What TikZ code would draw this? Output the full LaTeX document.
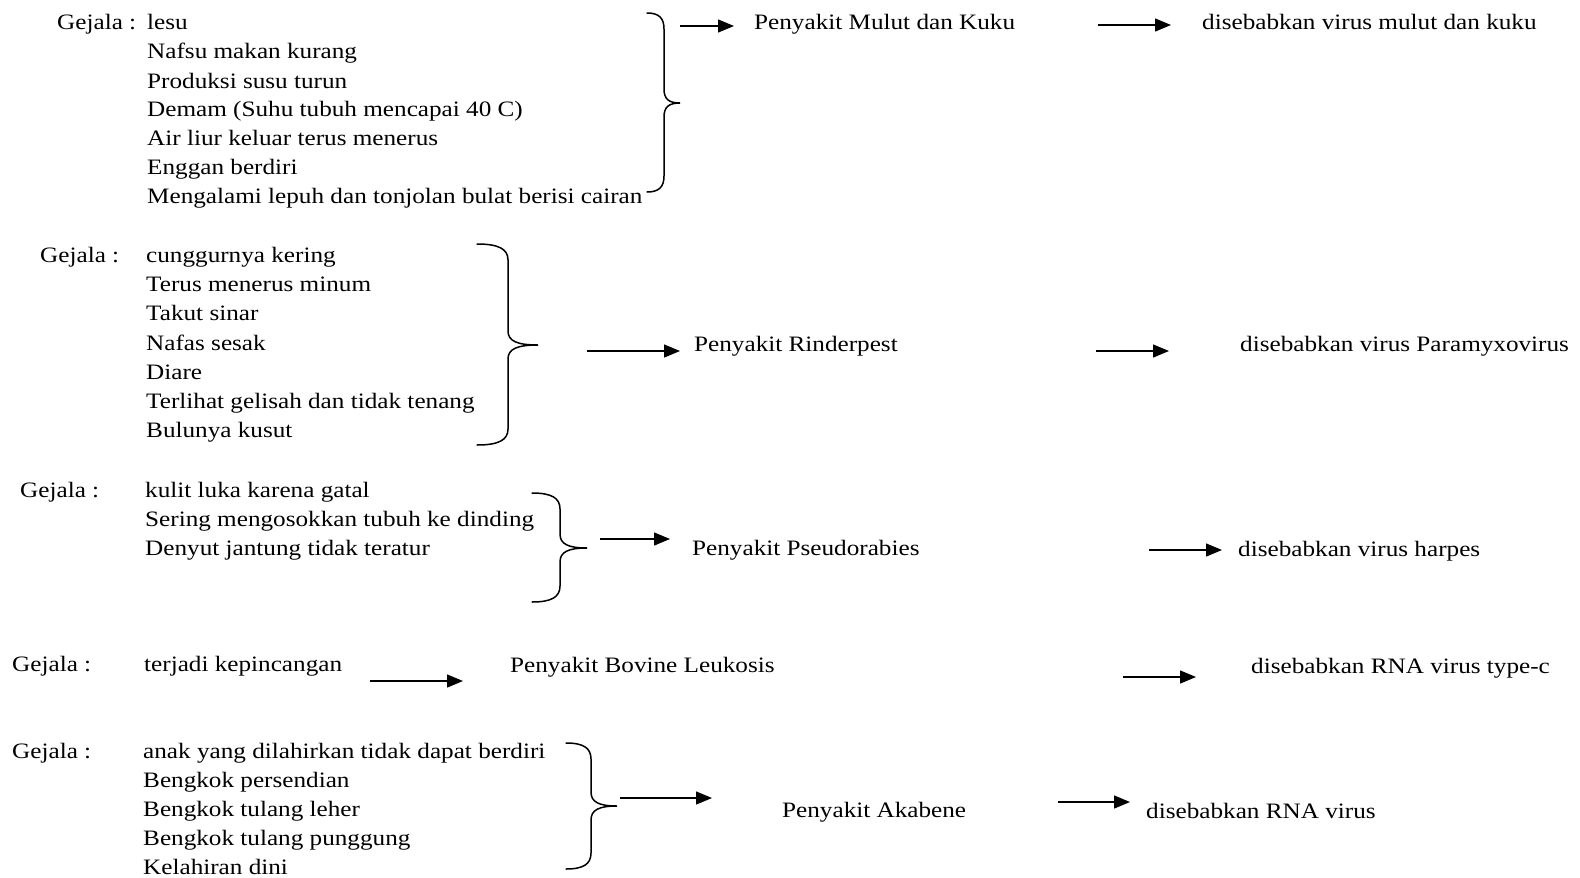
\documentclass[tikz,border=0pt]{standalone}
\usepackage{fontspec}
\setmainfont{Liberation Serif}[FakeStretch=1.145]
\usetikzlibrary{arrows.meta}

% curly brace: #1 end x, #2 spine x, #3 tip x, #4 top y, #5 middle y, #6 bottom y, #7 tip name
\newcommand\gbrace[7]{%
  \draw[braceline] (#1,#4) .. controls ({#1+(#2-#1)*0.7},#4) and (#2,{#4+5}) .. (#2,{#4+16})
    -- (#2,{#5-14}) .. controls (#2,{#5-4}) and ({#2+(#3-#2)*0.3},#5) .. (#3,#5)
    .. controls ({#2+(#3-#2)*0.3},#5) and (#2,{#5+4}) .. (#2,{#5+14})
    -- (#2,{#6-16}) .. controls (#2,{#6-5}) and ({#1+(#2-#1)*0.7},#6) .. (#1,#6);
  \coordinate (#7) at (#3,#5);}

\tikzset{
  lbl/.style={anchor=base west, inner sep=0pt, font=\fontsize{22}{26}\selectfont},
  braceline/.style={line width=1.5pt, line cap=round},
  arr/.style={line width=1.4pt, -{Triangle[length=16pt,width=13pt]}}
}

\begin{document}
\begin{tikzpicture}[x=1pt, y=-1pt]
\useasboundingbox (0,0) rectangle (1580,878);

% ---- Penyakit Mulut dan Kuku
\node[lbl] (g1) at (57,29) {Gejala :};
\node[lbl] (a1) at (147,29) {lesu};
\node[lbl] (a2) at (147,58) {Nafsu makan kurang};
\node[lbl] (a3) at (147,88) {Produksi susu turun};
\node[lbl] (a4) at (147,116) {Demam (Suhu tubuh mencapai 40 C)};
\node[lbl] (a5) at (147,145) {Air liur keluar terus menerus};
\node[lbl] (a6) at (147,174) {Enggan berdiri};
\node[lbl] (a7) at (147,203) {Mengalami lepuh dan tonjolan bulat berisi cairan};
\gbrace{647}{664}{680}{13}{103}{192}{b1}
\node[lbl] (p1) at (754,29) {Penyakit Mulut dan Kuku};
\node[lbl] (v1) at (1202,29) {disebabkan virus mulut dan kuku};
\coordinate (s1) at (680,26);
\coordinate (e1) at (734,26);
\coordinate (s1b) at (1098,25);
\coordinate (e1b) at (1171,25);
\draw[arr] (s1) -- (e1);
\draw[arr] (s1b) -- (e1b);

% ---- Penyakit Rinderpest
\node[lbl] (g2) at (40,262) {Gejala :};
\node[lbl] (c1) at (146,262) {cunggurnya kering};
\node[lbl] (c2) at (146,291) {Terus menerus minum};
\node[lbl] (c3) at (146,320) {Takut sinar};
\node[lbl] (c4) at (146,350) {Nafas sesak};
\node[lbl] (c5) at (146,379) {Diare};
\node[lbl] (c6) at (146,408) {Terlihat gelisah dan tidak tenang};
\node[lbl] (c7) at (146,437) {Bulunya kusut};
\gbrace{477}{508}{538}{244}{345}{445}{b2}
\node[lbl] (p2) at (694,351) {Penyakit Rinderpest};
\node[lbl] (v2) at (1240,351) {disebabkan virus Paramyxovirus};
\coordinate (s2) at (587,351);
\coordinate (e2) at (680,351);
\coordinate (s2b) at (1096,351);
\coordinate (e2b) at (1169,351);
\draw[arr] (s2) -- (e2);
\draw[arr] (s2b) -- (e2b);

% ---- Penyakit Pseudorabies
\node[lbl] (g3) at (20,497) {Gejala :};
\node[lbl] (d1) at (145,497) {kulit luka karena gatal};
\node[lbl] (d2) at (145,526) {Sering mengosokkan tubuh ke dinding};
\node[lbl] (d3) at (145,555) {Denyut jantung tidak teratur};
\gbrace{532}{560}{587}{493}{548}{602}{b3}
\node[lbl] (p3) at (692,555) {Penyakit Pseudorabies};
\node[lbl] (v3) at (1238,556) {disebabkan virus harpes};
\coordinate (s3) at (600,539);
\coordinate (e3) at (670,539);
\coordinate (s3b) at (1149,550);
\coordinate (e3b) at (1222,550);
\draw[arr] (s3) -- (e3);
\draw[arr] (s3b) -- (e3b);

% ---- Penyakit Bovine Leukosis
\node[lbl] (g4) at (12,671) {Gejala :};
\node[lbl] (f1) at (144,671) {terjadi kepincangan};
\node[lbl] (p4) at (510,672) {Penyakit Bovine Leukosis};
\node[lbl] (v4) at (1251,673) {disebabkan RNA virus type-c};
\coordinate (s4) at (370,681);
\coordinate (e4) at (463,681);
\coordinate (s4b) at (1123,677);
\coordinate (e4b) at (1196,677);
\draw[arr] (s4) -- (e4);
\draw[arr] (s4b) -- (e4b);

% ---- Penyakit Akabene
\node[lbl] (g5) at (12,758) {Gejala :};
\node[lbl] (h1) at (143,758) {anak yang dilahirkan tidak dapat berdiri};
\node[lbl] (h2) at (143,787) {Bengkok persendian};
\node[lbl] (h3) at (143,816) {Bengkok tulang leher};
\node[lbl] (h4) at (143,845) {Bengkok tulang punggung};
\node[lbl] (h5) at (143,874) {Kelahiran dini};
\gbrace{566}{591}{617}{743}{806}{869}{b5}
\node[lbl] (p5) at (782,817) {Penyakit Akabene};
\node[lbl] (v5) at (1146,818) {disebabkan RNA virus};
\coordinate (s5) at (620,798);
\coordinate (e5) at (712,798);
\coordinate (s5b) at (1058,802);
\coordinate (e5b) at (1130,802);
\draw[arr] (s5) -- (e5);
\draw[arr] (s5b) -- (e5b);
\end{tikzpicture}
\end{document}
